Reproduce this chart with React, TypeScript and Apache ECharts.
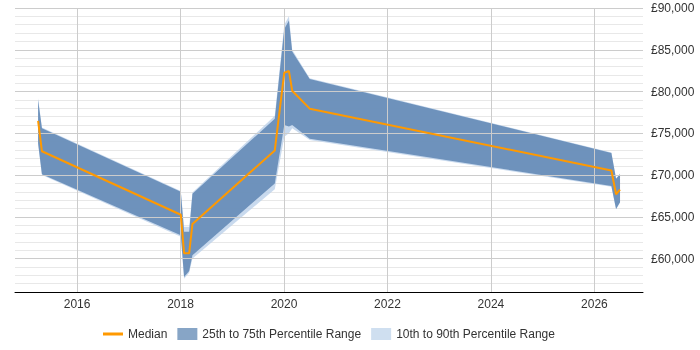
import React, { useEffect, useRef } from "react";
import * as echarts from "echarts";

// Observation dates
const dates = [
  "2015-04-01", "2015-04-28", "2018-01-03", "2018-01-26", "2018-03-03", "2018-03-26",
  "2019-10-28", "2020-01-03", "2020-02-05", "2020-02-28", "2020-07-01",
  "2026-05-01", "2026-06-03", "2026-07-01",
];
// Salary percentiles (GBP)
const median = [76500, 72850, 65250, 60650, 60650, 64150, 72950, 82250, 82450, 80100, 77950, 70550, 67700, 68250];
const p25 = [73800, 70100, 62800, 57800, 58500, 60400, 69000, 76000, 75800, 76000, 74350, 68700, 65950, 66750];
const p75 = [79000, 75600, 68000, 63200, 63200, 67750, 76750, 87500, 88500, 84800, 81500, 72650, 69550, 70100];
const p10 = [73700, 70000, 62600, 57600, 58300, 60000, 68300, 74600, 75000, 75600, 74200, 68600, 65900, 66700];
const p90 = [79200, 75700, 68100, 63800, 63800, 67900, 77100, 88000, 89000, 85000, 81600, 72700, 69600, 70200];

const yearTicks = [2016, 2018, 2020, 2022, 2024, 2026];
const majorSalaryTicks = [60000, 65000, 70000, 75000, 80000, 85000, 90000];

const toYear = (s: string) => {
  const d = new Date(s + "T00:00:00Z");
  const y = d.getUTCFullYear();
  const start = Date.UTC(y, 0, 1);
  const end = Date.UTC(y + 1, 0, 1);
  return y + (d.getTime() - start) / (end - start);
};

const DARK = "rgba(90,131,177,0.82)";
const LIGHT = "rgba(188,209,234,0.8)";
const FONT = "'Liberation Sans', Arial, sans-serif";

export default function App() {
  const ref = useRef<HTMLDivElement>(null);
  useEffect(() => {
    if (!ref.current) return;
    const chart = echarts.init(ref.current, undefined, { renderer: "svg" });
    const xs = dates.map(toYear);
    const pts = (arr: number[]) => arr.map((v, i) => [xs[i], v]);

    const band = (lower: number[], upper: number[], fill: string) =>
      (params: any, api: any) => {
        const top = xs.map((x, i) => api.coord([x, upper[i]]));
        const bot = xs.map((x, i) => api.coord([x, lower[i]])).reverse();
        return {
          type: "polygon",
          shape: { points: top.concat(bot) },
          style: { fill },
        };
      };

    chart.setOption({
      animation: false,
      textStyle: { fontFamily: FONT },
      grid: { left: 15, right: 57, top: 8, bottom: 58 },
      legend: {
        left: 98,
        top: 323,
        itemWidth: 20,
        itemHeight: 12,
        itemGap: 10,
        selectedMode: false,
        textStyle: { color: "#333", fontSize: 12, fontFamily: FONT },
        data: [
          {
            name: "Median",
            icon: "path://M0,0L0.01,0L0,0ZM0,4.5L20,4.5L20,7.5L0,7.5ZM0,12L0.01,12L0,12Z",
            itemStyle: { color: "#ff9900", borderWidth: 0 },
          },
          { name: "25th to 75th Percentile Range", icon: "rect", itemStyle: { color: "#87a5c6", borderWidth: 0 } },
          { name: "10th to 90th Percentile Range", icon: "rect", itemStyle: { color: "#cfdff0", borderWidth: 0 } },
        ],
      },
      xAxis: {
        type: "value",
        min: 2014.8,
        max: 2026.94,
        axisLine: { show: true, lineStyle: { color: "#000", width: 1 } },
        axisTick: { show: false },
        splitLine: { show: false },
        axisLabel: {
          customValues: yearTicks,
          formatter: (v: number) => String(v),
          color: "#333",
          fontSize: 12,
          margin: 6,
        },
      },
      yAxis: {
        type: "value",
        position: "right",
        min: 56000,
        max: 90000,
        interval: 1000,
        axisLine: { show: false },
        axisTick: { show: false },
        axisLabel: {
          margin: 8,
          color: "#333",
          fontSize: 12,
          formatter: (v: number) => (v % 5000 === 0 ? "£" + v.toLocaleString("en-GB") : ""),
        },
        splitLine: {
          show: true,
          lineStyle: { color: "#e8e8e8", width: 1 },
        },
      },
      series: [
        {
          name: "grid",
          type: "line",
          data: pts(median),
          symbol: "none",
          silent: true,
          lineStyle: { color: "rgba(0,0,0,0)", width: 0 },
          z: 0,
          markLine: {
            silent: true,
            symbol: ["none", "none"],
            label: { show: false },
            lineStyle: { color: "#cccccc", type: "solid", width: 1 },
            emphasis: { disabled: true },
            data: [
              ...yearTicks.map((y) => ({ xAxis: y })),
              ...majorSalaryTicks.map((v) => ({ yAxis: v })),
            ],
          },
        },
        {
          name: "10th to 90th Percentile Range",
          type: "custom",
          renderItem: band(p10, p90, LIGHT),
          data: [[xs[0], p10[0]]],
          silent: true,
          color: "#cfdff0",
          z: 2,
        },
        {
          name: "25th to 75th Percentile Range",
          type: "custom",
          renderItem: band(p25, p75, DARK),
          data: [[xs[0], p25[0]]],
          silent: true,
          color: "#87a5c6",
          z: 3,
        },
        {
          name: "Median",
          type: "line",
          data: pts(median),
          symbol: "none",
          silent: true,
          color: "#ff9900",
          lineStyle: { color: "#ff9900", width: 2 },
          z: 5,
        },
      ],
    });
    return () => chart.dispose();
  }, []);
  return (
    <div
      ref={ref}
      style={{ position: "fixed", left: 0, top: 0, width: 700, height: 350 }}
    />
  );
}
